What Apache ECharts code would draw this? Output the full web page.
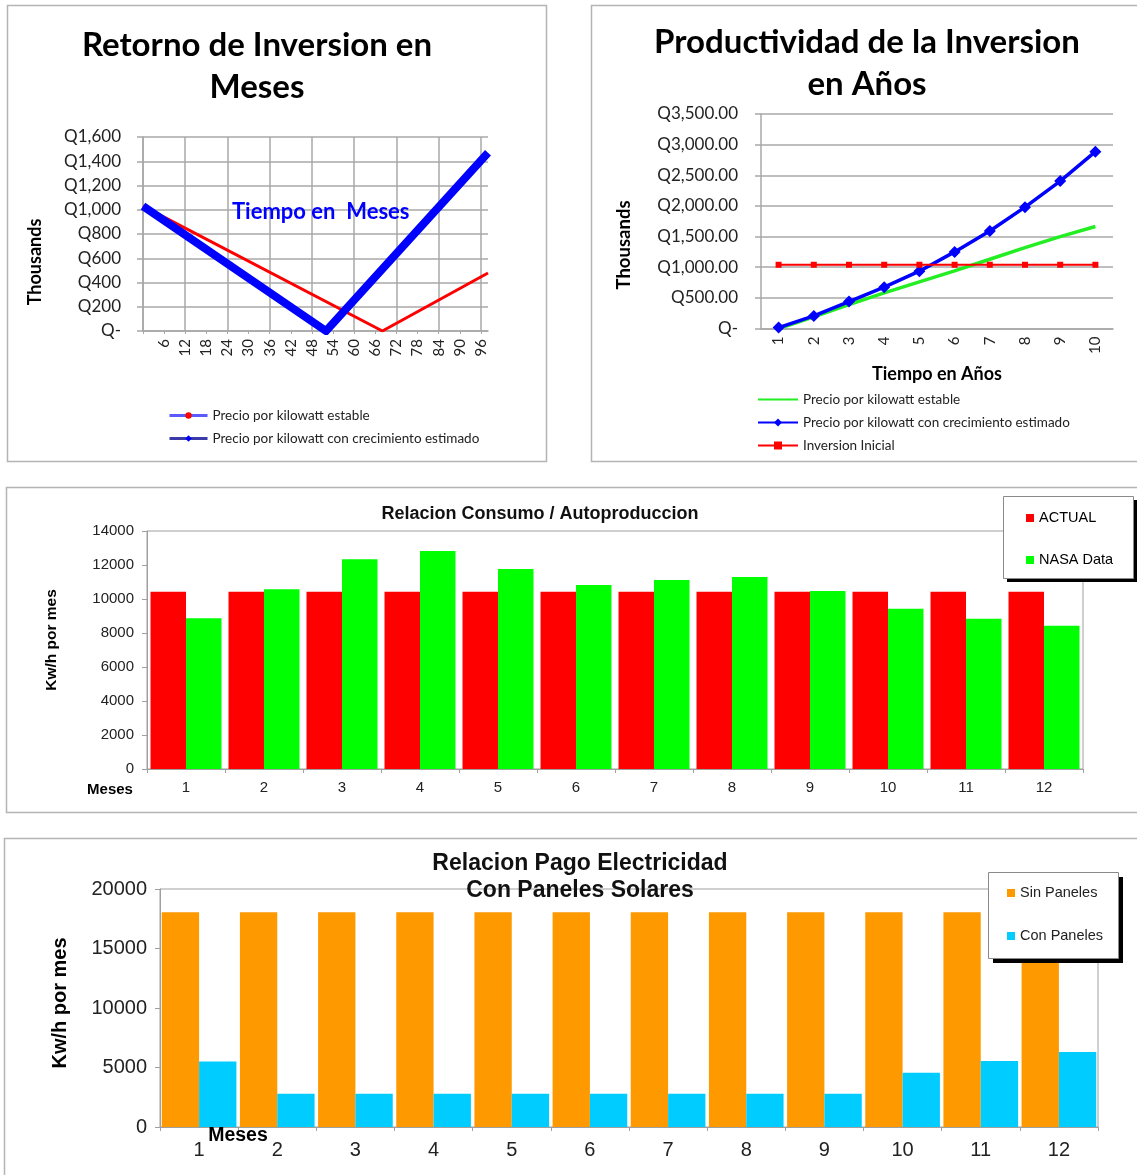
<!DOCTYPE html>
<html>
<head>
<meta charset="utf-8">
<script src="https://cdn.jsdelivr.net/npm/echarts@6/dist/echarts.min.js"></script>
<style>
html,body{margin:0;padding:0;background:#fff;}
#wrap{position:relative;width:1137px;height:1175px;overflow:hidden;}
.layer{position:absolute;left:0;top:0;width:1137px;height:1175px;}
</style>
</head>
<body>
<div id="wrap">
  <div id="ca" class="layer"></div>
  <div id="cb" class="layer"></div>
  <div id="cc" class="layer"></div>
  <div id="cd" class="layer"></div>
</div>
<script>
// ---------- DATA ----------
// Chart A: Retorno de Inversion en Meses  ([mes, miles de Q])
const retornoEstable = [[0, 1030], [68, 0], [98, 478]];
const retornoCrecimiento = [[0, 1030], [52, 0], [98, 1470]];

// Chart B: Productividad de la Inversion en Años (miles de Q)
const anios = ['1', '2', '3', '4', '5', '6', '7', '8', '9', '10'];
const prodEstable = [0, 190, 390, 580, 760, 940, 1130, 1320, 1500, 1665];
const prodCrecimiento = [15, 205, 440, 675, 935, 1250, 1590, 1980, 2405, 2885];
const inversionInicial = [1040, 1040, 1040, 1040, 1040, 1040, 1040, 1040, 1040, 1040];

// Chart C: Relacion Consumo / Autoproduccion (Kw/h por mes)
const mesesC = ['1', '2', '3', '4', '5', '6', '7', '8', '9', '10', '11', '12'];
const actual = [10430, 10430, 10430, 10430, 10430, 10430, 10430, 10430, 10430, 10430, 10430, 10430];
const nasaData = [8870, 10580, 12340, 12830, 11770, 10830, 11120, 11300, 10470, 9420, 8840, 8430];

// Chart D: Relacion Pago Electricidad Con Paneles Solares
const mesesD = ['1', '2', '3', '4', '5', '6', '7', '8', '9', '10', '11', '12'];
const sinPaneles = [18050, 18050, 18050, 18050, 18050, 18050, 18050, 18050, 18050, 18050, 18050, 18050];
const conPaneles = [5500, 2800, 2800, 2800, 2800, 2800, 2800, 2800, 2800, 4550, 5550, 6300];

// ---------- STYLE ----------
const CAL = 'Lato, "Open Sans", sans-serif';
const ARI = '"Liberation Sans", Arial, sans-serif';
const GRID = '#a8a8a8';
const PANEL = '#b4b4b4';

function panel(x, y, w, h) {
  return { type: 'rect', silent: true, z: -10,
    shape: { x: x + 0.5, y: y + 0.5, width: w, height: h },
    style: { fill: 'none', stroke: PANEL, lineWidth: 1.5 } };
}
function vtext(text, x, y, font, size) {
  return { type: 'text', silent: true, x: x, y: y, rotation: Math.PI / 2,
    style: { text: text, align: 'center', verticalAlign: 'middle', fontFamily: font,
      fontWeight: 'bold', fontSize: size, fill: '#000' } };
}
function legendBox(x, y, w, h, off) {
  return [
    { type: 'rect', silent: true, z: 100, shape: { x: x + off, y: y + off, width: w, height: h },
      style: { fill: '#000' } },
    { type: 'rect', silent: true, z: 101, shape: { x: x + 0.5, y: y + 0.5, width: w, height: h },
      style: { fill: '#fff', stroke: '#8a8a8a', lineWidth: 1 } }
  ];
}
const qA = v => v === 0 ? 'Q-' : 'Q' + v.toLocaleString('en-US');
const qB = v => v === 0 ? 'Q-' : 'Q' + v.toLocaleString('en-US', { minimumFractionDigits: 2, maximumFractionDigits: 2 });

// ---------- CHART A ----------
const chartA = echarts.init(document.getElementById('ca'));
chartA.setOption({
  animation: false,
  graphic: [panel(7, 5, 539, 456), vtext('Thousands', 35, 262, CAL, 18)],
  title: [
    { text: 'Retorno de Inversion en\nMeses', left: 257, top: 24, textAlign: 'center', padding: 0,
      textStyle: { fontFamily: CAL, fontWeight: 'bold', fontSize: 33, lineHeight: 42, color: '#000' } },
    { text: 'Tiempo en  Meses', left: 232, top: 200, padding: 0,
      textStyle: { fontFamily: CAL, fontWeight: 'bold', fontSize: 22, lineHeight: 24, color: '#0000ff' } }
  ],
  legend: {
    left: 168, top: 408, orient: 'vertical', padding: 0, itemGap: 8, itemWidth: 38, itemHeight: 8,
    textStyle: { fontFamily: CAL, fontSize: 13.5, lineHeight: 15, color: '#222' },
    data: [
      { name: 'Precio por kilowatt estable', itemStyle: { color: '#ff0000' }, lineStyle: { color: '#5a5aff', width: 3 } },
      { name: 'Precio por kilowatt con crecimiento estimado', itemStyle: { color: '#0000ff' }, lineStyle: { color: '#3a3aa8', width: 3 } }
    ]
  },
  grid: { left: 143, top: 137, width: 345, height: 194 },
  xAxis: {
    type: 'value', min: 0, max: 98, interval: 6,
    axisLine: { show: true, lineStyle: { color: GRID, width: 1.5 } },
    axisTick: { show: true, length: 3, lineStyle: { color: GRID } },
    axisLabel: { rotate: 90, margin: 8, fontFamily: CAL, fontSize: 15, color: '#222', showMaxLabel: false,
      formatter: v => v === 0 ? '' : String(v) },
    splitLine: { show: true, lineStyle: { color: [GRID, 'rgba(0,0,0,0)'], width: 1.5 } }
  },
  yAxis: {
    type: 'value', min: 0, max: 1600, interval: 200,
    axisLine: { show: true, lineStyle: { color: GRID, width: 1.5 } },
    axisTick: { show: true, length: 6, lineStyle: { color: GRID, width: 1.5 } },
    axisLabel: { margin: 22, fontFamily: CAL, fontSize: 17, color: '#222', formatter: qA },
    splitLine: { show: true, lineStyle: { color: GRID, width: 1.5 } }
  },
  series: [
    { name: 'Precio por kilowatt estable', type: 'line', data: retornoEstable,
      symbol: 'circle', showSymbol: false, z: 2,
      lineStyle: { color: '#ff0000', width: 3 }, itemStyle: { color: '#ff0000' } },
    { name: 'Precio por kilowatt con crecimiento estimado', type: 'line', data: retornoCrecimiento,
      symbol: 'diamond', showSymbol: false, z: 3,
      lineStyle: { color: '#0000ff', width: 8, join: 'miter' }, itemStyle: { color: '#0000ff' } }
  ]
});

// ---------- CHART B ----------
const chartB = echarts.init(document.getElementById('cb'));
chartB.setOption({
  animation: false,
  graphic: [panel(591, 5, 560, 456), vtext('Thousands', 624, 245, CAL, 18.5)],
  title: [
    { text: 'Productividad de la Inversion\nen Años', left: 867, top: 21, textAlign: 'center', padding: 0,
      textStyle: { fontFamily: CAL, fontWeight: 'bold', fontSize: 33, lineHeight: 42, color: '#000' } }
  ],
  legend: {
    left: 757, top: 392, orient: 'vertical', padding: 0, itemGap: 8, itemWidth: 40, itemHeight: 10,
    textStyle: { fontFamily: CAL, fontSize: 13.5, lineHeight: 15, color: '#222' },
    data: [
      { name: 'Precio por kilowatt estable', itemStyle: { opacity: 0 } },
      { name: 'Precio por kilowatt con crecimiento estimado' },
      { name: 'Inversion Inicial', icon: 'path://M0,0L40,0L40,10L0,10Z', itemStyle: { color: 'rgba(0,0,0,0)' } }
    ].slice(0, 2).concat([{ name: 'Inversion Inicial' }])
  },
  grid: { left: 761, top: 114, width: 352, height: 214.5 },
  xAxis: {
    type: 'category', data: anios, boundaryGap: true,
    name: 'Tiempo en Años', nameLocation: 'middle', nameGap: 37,
    nameTextStyle: { fontFamily: CAL, fontWeight: 'bold', fontSize: 18, color: '#000' },
    axisLine: { show: true, lineStyle: { color: GRID, width: 1.5 } },
    axisTick: { show: false },
    axisLabel: { rotate: 90, margin: 8, fontFamily: CAL, fontSize: 15, color: '#222' },
    splitLine: { show: false }
  },
  yAxis: {
    type: 'value', min: 0, max: 3500, interval: 500,
    axisLine: { show: true, lineStyle: { color: GRID, width: 1.5 } },
    axisTick: { show: true, length: 6, lineStyle: { color: GRID, width: 1.5 } },
    axisLabel: { margin: 23, fontFamily: CAL, fontSize: 17, color: '#222', formatter: qB },
    splitLine: { show: true, lineStyle: { color: GRID, width: 1.5 } }
  },
  series: [
    { name: 'Precio por kilowatt estable', type: 'line', data: prodEstable,
      symbol: 'circle', showSymbol: false, z: 2,
      lineStyle: { color: '#22ee22', width: 3.5 }, itemStyle: { color: '#22ee22' } },
    { name: 'Precio por kilowatt con crecimiento estimado', type: 'line', data: prodCrecimiento,
      symbol: 'diamond', symbolSize: 12, z: 3,
      lineStyle: { color: '#0000ff', width: 3.5 }, itemStyle: { color: '#0000ff' } },
    { name: 'Inversion Inicial', type: 'line', data: inversionInicial,
      symbol: 'rect', symbolSize: 6, z: 4,
      lineStyle: { color: '#ff0000', width: 2 }, itemStyle: { color: '#ff0000' } }
  ]
});

// ---------- CHART C ----------
const chartC = echarts.init(document.getElementById('cc'));
chartC.setOption({
  animation: false,
  graphic: [
    panel(6, 487, 1140, 325),
    vtext('Kw/h por mes', 52, 640, ARI, 15.5),
    { type: 'text', silent: true, style: { text: 'Meses', x: 110, y: 790, align: 'center', verticalAlign: 'middle',
      fontFamily: ARI, fontWeight: 'bold', fontSize: 15, fill: '#000' } }
  ].concat(legendBox(1003, 496, 130, 82, 4)),
  title: [
    { text: 'Relacion Consumo / Autoproduccion', left: 540, top: 505, textAlign: 'center', padding: 0,
      textStyle: { fontFamily: ARI, fontWeight: 'bold', fontSize: 18, lineHeight: 18, color: '#111' } }
  ],
  legend: {
    left: 1026, top: 510, orient: 'vertical', icon: 'rect', itemWidth: 8, itemHeight: 8, itemGap: 26,
    padding: 0, z: 120,
    textStyle: { fontFamily: ARI, fontSize: 14.5, lineHeight: 16, color: '#000' },
    data: ['ACTUAL', 'NASA Data']
  },
  grid: { left: 147, top: 531, width: 936, height: 238, show: true, borderColor: '#a0a0a0', borderWidth: 1 },
  xAxis: {
    type: 'category', data: mesesC,
    axisLine: { show: true, lineStyle: { color: '#a0a0a0' } },
    axisTick: { show: true, length: 4, lineStyle: { color: '#a0a0a0' } },
    axisLabel: { margin: 11, fontFamily: ARI, fontSize: 15, color: '#222' }
  },
  yAxis: {
    type: 'value', min: 0, max: 14000, interval: 2000,
    axisLine: { show: true, lineStyle: { color: '#a0a0a0' } },
    axisTick: { show: true, length: 5, lineStyle: { color: '#a0a0a0' } },
    axisLabel: { margin: 13, fontFamily: ARI, fontSize: 15, color: '#222', formatter: v => String(v) },
    splitLine: { show: false }
  },
  series: [
    { name: 'ACTUAL', type: 'bar', data: actual, barGap: '0%', barCategoryGap: '9%', itemStyle: { color: '#ff0000' } },
    { name: 'NASA Data', type: 'bar', data: nasaData, itemStyle: { color: '#00ff00' } }
  ]
});

// ---------- CHART D ----------
const chartD = echarts.init(document.getElementById('cd'));
chartD.setOption({
  animation: false,
  graphic: [
    panel(4, 838, 1140, 345),
    vtext('Kw/h por mes', 60, 1003, ARI, 20),
    { type: 'text', silent: true, z: 50, style: { text: 'Meses', x: 238, y: 1136, align: 'center', verticalAlign: 'middle',
      fontFamily: ARI, fontWeight: 'bold', fontSize: 19.5, fill: '#000' } }
  ].concat(legendBox(988, 872, 130, 86, 5)),
  title: [
    { text: 'Relacion Pago Electricidad\nCon Paneles Solares', left: 580, top: 850, textAlign: 'center', padding: 0,
      textStyle: { fontFamily: ARI, fontWeight: 'bold', fontSize: 23, lineHeight: 27, color: '#111' } }
  ],
  legend: {
    left: 1007, top: 885, orient: 'vertical', icon: 'rect', itemWidth: 8, itemHeight: 8, itemGap: 27,
    padding: 0, z: 120,
    textStyle: { fontFamily: ARI, fontSize: 14.5, lineHeight: 16, color: '#222' },
    data: ['Sin Paneles', 'Con Paneles']
  },
  grid: { left: 160, top: 889, width: 938, height: 238, show: true, borderColor: '#a0a0a0', borderWidth: 1 },
  xAxis: {
    type: 'category', data: mesesD,
    axisLine: { show: true, lineStyle: { color: '#a0a0a0' } },
    axisTick: { show: true, length: 4, lineStyle: { color: '#a0a0a0' } },
    axisLabel: { margin: 13, fontFamily: ARI, fontSize: 20, color: '#222' }
  },
  yAxis: {
    type: 'value', min: 0, max: 20000, interval: 5000,
    axisLine: { show: true, lineStyle: { color: '#a0a0a0' } },
    axisTick: { show: true, length: 5, lineStyle: { color: '#a0a0a0' } },
    axisLabel: { margin: 13, fontFamily: ARI, fontSize: 20, color: '#222', formatter: v => String(v) },
    splitLine: { show: false }
  },
  series: [
    { name: 'Sin Paneles', type: 'bar', data: sinPaneles, barGap: '0%', barCategoryGap: '4.5%', itemStyle: { color: '#ff9900' } },
    { name: 'Con Paneles', type: 'bar', data: conPaneles, itemStyle: { color: '#00ccff' } }
  ]
});
</script>
</body>
</html>
